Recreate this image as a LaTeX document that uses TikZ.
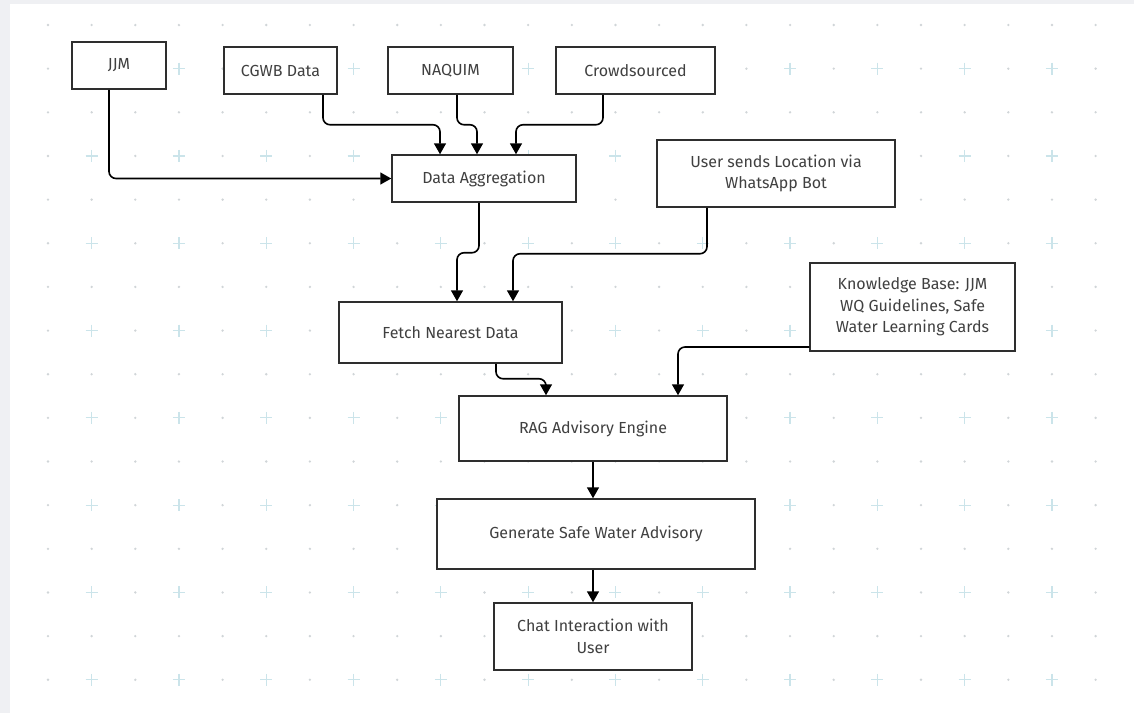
\documentclass[tikz,border=0pt]{standalone}
\usepackage{fontspec}
\setmainfont{Fira Sans}
\usetikzlibrary{arrows.meta}
\definecolor{framegrey}{HTML}{EFF0F3}
\definecolor{dotgrey}{HTML}{D0D5D8}
\definecolor{pluscyan}{HTML}{CBE4EA}
\definecolor{txtgrey}{HTML}{404040}
\definecolor{edge}{HTML}{2E2E2E}
\tikzset{
  box/.style={draw=edge, line width=1.5pt, fill=white, align=center, inner sep=4pt,
    text=txtgrey, font=\fontsize{16}{21.5}\selectfont},
  arr/.style={draw=black, line width=1.6pt, rounded corners=7pt,
    -{Triangle[length=11pt,width=12pt]}},
}
\begin{document}
\begin{tikzpicture}[x=1pt,y=-1pt]
\useasboundingbox (0,0) rectangle (1134,713);
\fill[framegrey] (0,0) rectangle (1134,713);
\fill[white] (10,4) rectangle (1134,713);
% background grid
\foreach \i in {0,...,24}{
  \foreach \j in {0,...,15}{
    \pgfmathsetmacro{\gx}{48+43.65*\i}
    \pgfmathsetmacro{\gy}{25+43.65*\j}
    \pgfmathtruncatemacro{\oi}{mod(\i,2)}
    \pgfmathtruncatemacro{\oj}{mod(\j,2)}
    \ifnum\oi\oj=11
      \draw[pluscyan, line width=1.2pt] (\gx-6,\gy) -- (\gx+6,\gy) (\gx,\gy-6) -- (\gx,\gy+6);
    \else
      \fill[dotgrey] (\gx,\gy) circle (1.3pt);
    \fi
  }
}
% nodes
\node[box, minimum width=94pt, minimum height=47pt] (jjm) at (119,65.5) {JJM};
\node[box, minimum width=113pt, minimum height=47pt] (cgwb) at (280.5,70.5) {CGWB Data};
\node[box, minimum width=125pt, minimum height=47pt] (naq) at (450.5,70.5) {NAQUIM};
\node[box, minimum width=159pt, minimum height=47pt] (crowd) at (635.5,70.5) {Crowdsourced};
\node[box, minimum width=184pt, minimum height=47pt] (agg) at (484,178.5) {Data Aggregation};
\node[box, minimum width=238pt, minimum height=67pt] (user) at (776,173.5) {User sends Location via\\WhatsApp Bot};
\node[box, minimum width=205pt, minimum height=88pt] (kb) at (912.5,307) {Knowledge Base: JJM\\WQ Guidelines, Safe\\Water Learning Cards};
\node[box, minimum width=223pt, minimum height=61pt] (fetch) at (450.5,332.5) {Fetch Nearest Data};
\node[box, minimum width=268pt, minimum height=65pt] (rag) at (593,428.5) {RAG Advisory Engine};
\node[box, minimum width=318pt, minimum height=70pt] (gen) at (596,534) {Generate Safe Water Advisory};
\node[box, minimum width=198pt, minimum height=67pt] (chat) at (593,636.5) {Chat Interaction with\\User};
% connectors
\draw[arr] ([xshift=-10pt]jjm.south) |- (agg.west);
\draw[arr] ([xshift=42.5pt]cgwb.south) -- ++(0,30) -| ([xshift=-44pt]agg.north);
\draw[arr] ([xshift=6.5pt]naq.south) -- ++(0,30) -| ([xshift=-7pt]agg.north);
\draw[arr] ([xshift=-32.5pt]crowd.south) -- ++(0,30) -| ([xshift=32pt]agg.north);
\draw[arr] ([xshift=-5pt]agg.south) -- ++(0,50) -| ([xshift=6.5pt]fetch.north);
\draw[arr] ([xshift=-69pt]user.south) -- ++(0,46) -| ([xshift=62.5pt]fetch.north);
\draw[arr] ([xshift=45.5pt]fetch.south) -- ++(0,15) -| ([xshift=-47pt]rag.north);
\draw[arr] ([yshift=-40pt]kb.west) -| ([xshift=85pt]rag.north);
\draw[arr] (rag.south) -- (rag.south |- gen.north);
\draw[arr] (chat.north |- gen.south) -- (chat.north);
\end{tikzpicture}
\end{document}
